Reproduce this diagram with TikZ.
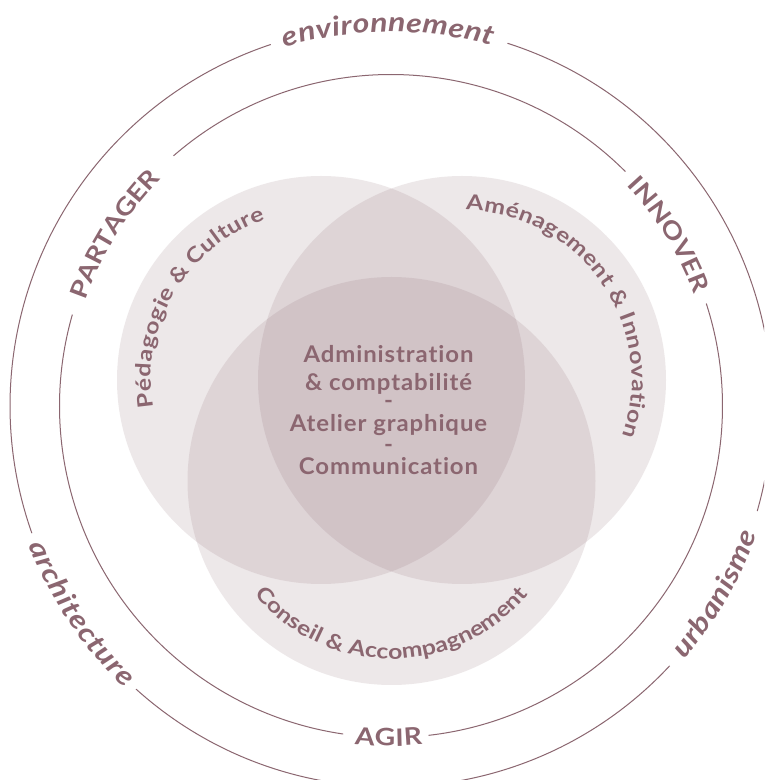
\documentclass[tikz,border=0pt]{standalone}
\usepackage{fontspec}
\setmainfont{Lato}
\usetikzlibrary{decorations.text,calc}
\newfontfamily\latoCtr[LetterSpace=4,FakeStretch=1.04,Ligatures=NoCommon]{Lato}
\newfontfamily\latoTrk[FakeStretch=1.18,Ligatures=NoCommon]{Lato}
\definecolor{mauve}{HTML}{8B6670}
\newcommand\ctrF{\latoCtr\bfseries\fontsize{23}{28}\selectfont\color{mauve}}
\newcommand\labF{\latoTrk\bfseries\fontsize{21}{25}\selectfont\color{mauve}}
\newcommand\outF{\latoTrk\bfseries\itshape\fontsize{27}{31}\selectfont\color{mauve}}
\newcommand\capF{\latoTrk\bfseries\fontsize{24}{28}\selectfont\color{mauve}}
\tikzset{
  ring/.style={draw=mauve, line width=1pt},
  vennfill/.style={fill=mauve, fill opacity=0.15},
  ctrtext/.style={inner sep=0pt, anchor=base, font=\ctrF, text=mauve},
}
\begin{document}
\begin{tikzpicture}[x=1pt,y=1pt]
\useasboundingbox (0,0) rectangle (764,780);
\fill[white] (0,0) rectangle (764,780);
\clip (0,0) rectangle (764,780);
\coordinate (O) at (391,374);
\coordinate (L) at (321,400);
\coordinate (R) at (462,400);
\coordinate (B) at (391.5,299);
% Venn circles
\fill[vennfill] (L) circle[radius=204];
\fill[vennfill] (R) circle[radius=204];
\fill[vennfill] (B) circle[radius=204];
% outer ring with gaps
\draw[ring] ($(O)+(108.4:381)$) arc[start angle=108.4, end angle=199.5, radius=381];
\draw[ring] ($(O)+(228:381)$) arc[start angle=228, end angle=317, radius=381];
\draw[ring] ($(O)+(344:381)$) arc[start angle=344, end angle=432.2, radius=381];
% inner ring with gaps
\draw[ring] ($(O)+(45:331.5)$) arc[start angle=45, end angle=131, radius=331.5];
\draw[ring] ($(O)+(164:331.5)$) arc[start angle=164, end angle=261.7, radius=331.5];
\draw[ring] ($(O)+(276.5:331.5)$) arc[start angle=276.5, end angle=378, radius=331.5];
% outer words
\path[decorate, decoration={text along path, text={|\outF|environnement}, text align={fit to path}, raise=-6.8pt}]
  ($(O)+(106.5:381)$) arc[start angle=106.5, end angle=74.4, radius=381];
\path[decorate, decoration={text along path, text={|\outF|architecture}, text align={fit to path}, raise=-6.8pt}]
  ($(O)+(201:381)$) arc[start angle=201, end angle=226.7, radius=381];
\path[decorate, decoration={text along path, text={|\outF|urbanisme}, text align={fit to path}, raise=-6.8pt}]
  ($(O)+(-40.9:381)$) arc[start angle=-40.9, end angle=-19.2, radius=381];
% inner words
\path[decorate, decoration={text along path, text={|\capF|PARTAGER}, text align={fit to path}, raise=-8.6pt}]
  ($(O)+(160.9:331.5)$) arc[start angle=160.9, end angle=135.7, radius=331.5];
\path[decorate, decoration={text along path, text={|\capF|INNOVER}, text align={fit to path}, raise=-8.6pt}]
  ($(O)+(43.1:331.5)$) arc[start angle=43.1, end angle=20.2, radius=331.5];
\path[decorate, decoration={text along path, text={|\capF|AGIR}, text align={fit to path}, raise=-8.6pt}]
  ($(O)+(263.8:331.5)$) arc[start angle=263.8, end angle=273.9, radius=331.5];
% Venn labels
\path[decorate, decoration={text along path, text={|\labF|Pédagogie {\&} Culture}, text align={fit to path}}]
  ($(L)+(189.2:170)$) arc[start angle=189.2, end angle=109.2, radius=170];
\path[decorate, decoration={text along path, text={|\labF|Aménagement {\&} Innovation}, text align={fit to path}}]
  ($(R)+(88.7:170)$) arc[start angle=88.7, end angle=-19.3, radius=170];
\path[decorate, decoration={text along path, text={|\labF|Conseil {\&} Accompagnement}, text align={fit to path}}]
  ($(B)+(219.5:178)$) arc[start angle=219.5, end angle=320.5, radius=178];
% centre text
\node[ctrtext] (c1) at (388.5,417) {Administration};
\node[ctrtext] (c2) at (388.5,389) {\& comptabilité};
\node[ctrtext] (c3) at (388.5,371.5) {-};
\node[ctrtext] (c4) at (388.5,348) {Atelier graphique};
\node[ctrtext] (c5) at (388.5,327.5) {-};
\node[ctrtext] (c6) at (388.5,305) {Communication};
\end{tikzpicture}
\end{document}
